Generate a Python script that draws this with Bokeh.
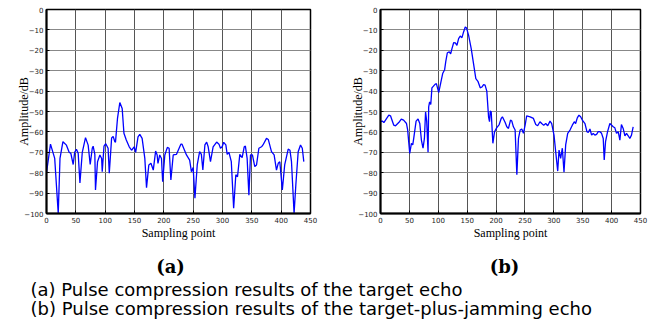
from bokeh.plotting import figure
from bokeh.layouts import column, row
from bokeh.models import Range1d, FixedTicker, Label
from bokeh.embed import file_html
from bokeh.resources import INLINE

# ---- data ----
x_a = [0, 6.8, 14, 20, 23, 28, 34, 38.6, 41.5, 45.5, 48, 51, 54, 57, 61, 66.5, 71, 74.5, 78, 79.5,
       82.4, 83.5, 87, 91, 94, 95, 98, 101, 105, 107, 111, 113.6, 116.5, 117.6, 121, 125, 129, 132,
       136, 141, 145, 149.4, 152, 156, 159, 163, 167.6, 170.5, 174.4, 178, 182, 186, 188.6, 190, 193,
       196, 198, 201.7, 206, 209, 212, 216, 221.6, 229, 231, 238.6, 244, 247, 250, 253, 257, 261, 264,
       266.5, 270, 273, 275.6, 279.5, 284, 290, 294, 296.6, 299.4, 302, 305.7, 308, 311, 315, 319,
       322.7, 325.6, 329.5, 333.5, 337, 339, 342, 345, 347.7, 351, 355, 358, 362, 366.5, 369, 375,
       378, 383.5, 388, 392, 395, 397.7, 402, 406, 412, 415, 417.6, 422, 425, 429, 433, 436, 438.6]
y_a = [-80, -66, -73, -100, -73, -64.8, -66.5, -70, -70.5, -76, -70, -68.5, -70.5, -85, -70, -62.8,
       -66.5, -76, -68, -67, -71, -88.5, -74.6, -71.3, -73, -79.5, -67, -65.8, -68, -80.3, -63, -62.2,
       -64.8, -65, -53.4, -45.6, -48.5, -60.7, -64, -67.3, -69, -67.3, -70, -62.4, -61.2, -63.2, -73,
       -87.3, -76.2, -75.4, -78.7, -69.4, -71.3, -75.4, -71.3, -73, -84.4, -71.3, -67.6, -68, -83.5,
       -71.3, -71, -66, -66, -71.3, -73.8, -79.5, -77.5, -92.5, -76, -69.7, -71, -78.7, -66.4, -65,
       -67.3, -74.6, -67.3, -65, -66, -68, -67.3, -65.1, -66.4, -71, -70, -74.6, -97.4, -81, -82, -71,
       -72.6, -67.3, -67, -73, -91, -71.3, -71.3, -77, -76.2, -68, -67.3, -66.4, -63.2, -63.7, -69.7,
       -71.3, -78.7, -75.4, -74.6, -88.4, -76.2, -68.4, -69, -74.6, -100, -86, -69.7, -66.4, -68, -74.6]

x_b = [0, 3, 5.8, 9.8, 14.4, 17.3, 23, 26, 31.6, 36, 40, 45, 47, 50.6, 53.5, 55.8, 57.5, 61.6, 65,
       68, 70.8, 73.6, 76, 78, 80, 82.3, 83.4, 85, 87, 89, 94, 96.7, 99, 100.7, 104, 107.6, 111, 113,
       115.7, 119, 121.4, 123.7, 126.6, 129.5, 132.3, 135.2, 138, 141, 143.8, 146.7, 149, 152.5, 157,
       161, 165, 168.6, 172.6, 175.5, 178.4, 181, 184, 187, 188.7, 190, 191.6, 194.5, 197.4, 201,
       205.4, 208.9, 211, 215.8, 218.6, 221.5, 225, 227.3, 230, 233, 236, 238.8, 241.7, 244.5, 247.4,
       250.3, 253, 259, 264.7, 268.7, 272, 276, 279, 282.5, 286, 289.4, 293.4, 296.3, 300.3, 303.8,
       306.7, 309, 311.8, 314.7, 317.6, 320.5, 324, 328, 332, 335.4, 337.7, 340.6, 343.5, 346.4, 349.3,
       353.9, 357.3, 359.6, 362.5, 365.4, 368.2, 371, 374, 376.9, 379.7, 382.6, 385.5, 387.2, 389.5,
       393, 397, 400, 402.8, 405.6, 408.5, 411.4, 414.3, 417, 420, 423, 425.8, 428.7, 431.5, 434.4,
       437.3]
y_b = [-55, -54.7, -55.4, -53.7, -51.8, -52.1, -56.7, -57, -55.4, -53.7, -54.2, -55.9, -59, -70.5,
       -65.6, -66.4, -63.2, -54.7, -53.7, -55.9, -64, -68, -63.2, -50.2, -55, -70, -47.7, -45.3, -46.6,
       -38.4, -36.8, -36.3, -38.8, -40.7, -36.3, -31.4, -29.5, -25.4, -21.2, -20.8, -21.7, -19.2, -16.3,
       -16.4, -17.6, -14.3, -13, -13.8, -11, -8.6, -9.1, -12.7, -19.2, -26.5, -33.9, -35.2, -38.4, -38,
       -36.8, -37.1, -40, -52.6, -55, -49.8, -50.2, -65.6, -59.9, -58, -56.4, -53.4, -52.6, -55.4,
       -57.5, -58.3, -54.2, -54.7, -57.5, -59.1, -81, -63.2, -59.1, -58.6, -60.7, -56.7, -52.1, -52.6,
       -53.4, -56.4, -57, -55, -55.9, -56.7, -55.9, -57, -54.7, -55.9, -61.6, -71.3, -79.2, -68.9, -73,
       -68, -79.8, -66.4, -60.7, -59.1, -56.7, -55, -55.9, -53.1, -51.8, -52.6, -54.2, -55.9, -59.9,
       -60.3, -58.6, -61.6, -60.7, -61.6, -61.2, -59.9, -59.9, -60.7, -63.2, -73.8, -64.8, -59.9, -55.9,
       -56.7, -57.5, -58, -60.7, -59.9, -64, -56.4, -58.3, -61.9, -60.7, -61.9, -63.2, -61.6, -57.5]

x_ticks = [0, 50, 100, 150, 200, 250, 300, 350, 400, 450]
y_ticks = [-100, -90, -80, -70, -60, -50, -40, -30, -20, -10, 0]
x_label = "Sampling point"
y_label = "Amplitude/dB"
panel_tags = ["(a)", "(b)"]
captions = ["(a) Pulse compression results of the target echo",
            "(b) Pulse compression results of the target-plus-jamming echo"]


def make_panel(xs, ys, fw, border_left, border_right):
    p = figure(frame_width=fw, frame_height=204, min_border_left=border_left,
               min_border_right=border_right, min_border_top=9, min_border_bottom=33,
               x_range=Range1d(0, 450), y_range=Range1d(-100, 0),
               toolbar_location=None, output_backend="svg")
    p.line(xs, ys, line_color="#0000ff", line_width=1.3)
    p.xaxis.ticker = FixedTicker(ticks=x_ticks)
    p.yaxis.ticker = FixedTicker(ticks=y_ticks)
    for ax in (p.xaxis, p.yaxis):
        ax.axis_line_color = "black"
        ax.axis_line_width = 2
        ax.major_tick_in = 3
        ax.major_tick_out = 0
        ax.minor_tick_line_color = None
        ax.major_label_text_font = "DejaVu Sans"
        ax.major_label_text_font_size = "7px"
        ax.major_label_text_color = "#222222"
        ax.major_label_standoff = 3
        ax.axis_label_text_font = "Liberation Serif"
        ax.axis_label_text_font_size = "12px"
        ax.axis_label_text_font_style = "normal"
        ax.axis_label_text_color = "black"
    p.xaxis.axis_label = x_label
    p.yaxis.axis_label = y_label
    p.xaxis.axis_label_standoff = 0
    p.yaxis.axis_label_standoff = -10
    p.xgrid.grid_line_color = "#555555"
    p.ygrid.grid_line_color = "#888888"
    p.xgrid.grid_line_width = 1
    p.ygrid.grid_line_width = 1
    p.outline_line_color = "black"
    p.outline_line_width = 1.5
    p.background_fill_color = "white"
    p.border_fill_color = "white"
    return p


p1 = make_panel(x_a, y_a, 264, 46, 30)
p2 = make_panel(x_b, y_b, 260, 40, 10)

p3 = figure(frame_width=644, frame_height=76, min_border=0,
            x_range=Range1d(0, 644), y_range=Range1d(76, 0),
            x_axis_location=None, y_axis_location=None,
            toolbar_location=None, output_backend="svg")
p3.grid.visible = False
p3.outline_line_color = None

for tag, cx in zip(panel_tags, [170, 504]):
    p3.add_layout(Label(x=cx, y=20, text=tag, text_font="DejaVu Serif", text_font_style="bold",
                        text_font_size="18px", text_align="center", text_baseline="middle",
                        text_color="black"))
for cap, cy in zip(captions, [43, 61.5]):
    p3.add_layout(Label(x=30, y=cy, text=cap, text_font="DejaVu Sans", text_font_size="18px",
                        text_align="left", text_baseline="middle", text_color="black"))

layout = column(row(p1, p2), p3)
open("out.html", "w").write(file_html(layout, INLINE))
